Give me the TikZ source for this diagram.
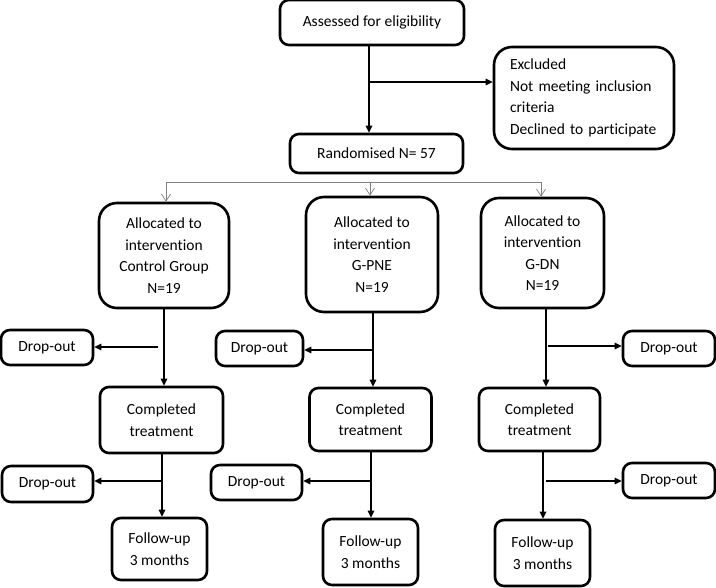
\documentclass[tikz,border=0pt]{standalone}
\usepackage{fontspec}
\setmainfont{Carlito}[Ligatures={NoCommon}]
\usetikzlibrary{arrows.meta}

\tikzset{
  box/.style={draw, line width=2.6pt, rounded corners=9pt, align=center,
    inner sep=0pt, font=\fontsize{15.5}{21.5}\selectfont},
  bigbox/.style={box, rounded corners=18pt},
  conn/.style={line width=1.2pt, -{Triangle[length=7pt,width=6.5pt]}},
  split/.style={draw=gray, line width=0.9pt},
  splitarrow/.style={split, -{Straight Barb[length=7pt,width=9pt,line width=0.7pt]}}
}

\begin{document}
\begin{tikzpicture}[x=1pt,y=-1pt]
  \useasboundingbox (0,0) rectangle (716,588);
  % top part
  \node [box, minimum width=184pt, minimum height=45pt] (assess) at (372,22.5) {Assessed for eligibility};
  \node [bigbox, minimum width=180pt, minimum height=102pt, align=left, text width=148pt] (excl) at (584,98)
    {Excluded\\Not meeting inclusion\\criteria\\Declined to participate};
  \node [box, minimum width=173pt, minimum height=39pt] (rand) at (376.5,153.5) {Randomised N= 57};
  \draw [conn] (assess.south -| 369,0) -- (rand.north -| 369,0);
  \draw [conn] (369,82) -- (excl.west |- 0,82);

  % allocation
  \node [bigbox, minimum width=130pt, minimum height=105pt] (alloc1) at (164,255.5) {Allocated to\\intervention\\Control Group\\N=19};
  \node [bigbox, minimum width=132pt, minimum height=115pt] (alloc2) at (372,254.5) {Allocated to\\intervention\\G-PNE\\N=19};
  \node [bigbox, minimum width=123pt, minimum height=110pt] (alloc3) at (542.5,253) {Allocated to\\intervention\\G-DN\\N=19};
  \draw [split] (166,182) -- (541,182);
  \draw [splitarrow] (166,182) -- (alloc1.north -| 166,0);
  \draw [splitarrow] (370,182) -- (alloc2.north -| 370,0);
  \draw [splitarrow] (541,182) -- (alloc3.north -| 541,0);

  % completed treatment
  \node [box, minimum width=123pt, minimum height=66pt] (comp1) at (161.5,420) {Completed\\treatment};
  \node [box, minimum width=122pt, minimum height=63pt] (comp2) at (370.5,419.5) {Completed\\treatment};
  \node [box, minimum width=121pt, minimum height=63pt] (comp3) at (539.5,419.5) {Completed\\treatment};
  \node [box, minimum width=92pt, minimum height=35pt] (drop1a) at (47,347.5) {Drop-out};
  \node [box, minimum width=87pt, minimum height=35pt] (drop2a) at (259.5,348.5) {Drop-out};
  \node [box, minimum width=92pt, minimum height=35pt] (drop3a) at (669,348.5) {Drop-out};
  \draw [conn] (alloc1.south -| 164,0) -- (comp1.north -| 164,0);
  \draw [conn] (alloc2.south -| 373,0) -- (comp2.north -| 373,0);
  \draw [conn] (alloc3.south -| 546,0) -- (comp3.north -| 546,0);
  \draw [conn] (158,347) -- (drop1a.east |- 0,347);
  \draw [conn] (373,350) -- (drop2a.east |- 0,350);
  \draw [conn] (548,346) -- (drop3a.west |- 0,346);

  % follow-up
  \node [box, minimum width=95pt, minimum height=62pt] (fol1) at (159.5,549) {Follow-up\\3 months};
  \node [box, minimum width=95pt, minimum height=66pt] (fol2) at (370.5,552) {Follow-up\\3 months};
  \node [box, minimum width=95pt, minimum height=66pt] (fol3) at (542.5,553) {Follow-up\\3 months};
  \node [box, minimum width=91pt, minimum height=36pt] (drop1b) at (47.5,484) {Drop-out};
  \node [box, minimum width=91pt, minimum height=35pt] (drop2b) at (256.5,482.5) {Drop-out};
  \node [box, minimum width=92pt, minimum height=35pt] (drop3b) at (669,480.5) {Drop-out};
  \draw [conn] (comp1.south -| 162,0) -- (fol1.north -| 162,0);
  \draw [conn] (comp2.south -| 371,0) -- (fol2.north -| 371,0);
  \draw [conn] (comp3.south -| 543,0) -- (fol3.north -| 543,0);
  \draw [conn] (162,481) -- (drop1b.east |- 0,481);
  \draw [conn] (371,481) -- (drop2b.east |- 0,481);
  \draw [conn] (546,481) -- (drop3b.west |- 0,481);
\end{tikzpicture}
\end{document}
